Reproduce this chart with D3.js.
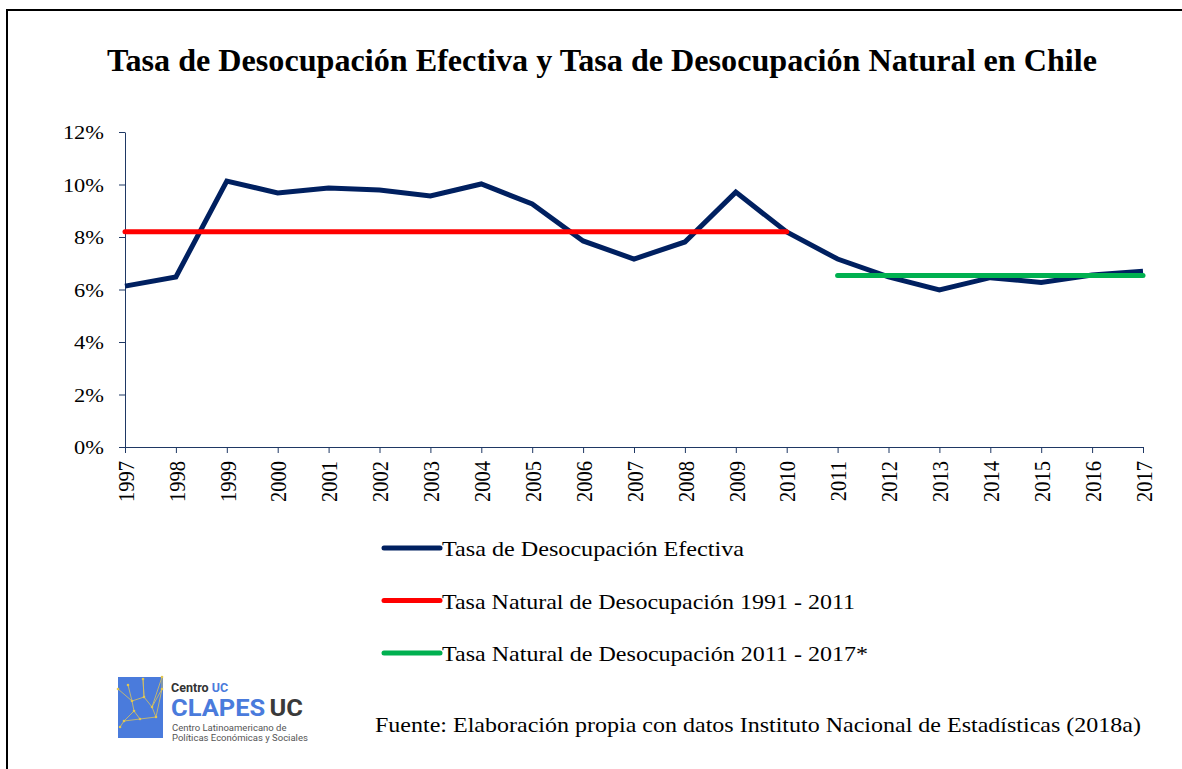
<!DOCTYPE html>
<html>
<head>
<meta charset="utf-8">
<script src="https://cdn.jsdelivr.net/npm/d3@7"></script>
<style>
  body { margin: 0; background: #fff; }
  svg { display: block; font-family: "Liberation Serif", "Times New Roman", serif; }
</style>
</head>
<body>
<svg id="chart" width="1182" height="769"></svg>
<script>
// Data
const years = ["1997", "1998", "1999", "2000", "2001", "2002", "2003", "2004", "2005", "2006", "2007",
               "2008", "2009", "2010", "2011", "2012", "2013", "2014", "2015", "2016", "2017"];
const efectiva = [6.13, 6.48, 10.13, 9.68, 9.87, 9.79, 9.56, 10.02, 9.26, 7.85, 7.16,
                  7.81, 9.71, 8.19, 7.16, 6.48, 5.98, 6.45, 6.27, 6.55, 6.70];
const natural1 = { from: "1997", to: "2010", value: 8.2 };
const natural2 = { from: "2011", to: "2017", value: 6.53 };
const yTicks = [0, 2, 4, 6, 8, 10, 12];
const legendLabels = ["Tasa de Desocupación Efectiva",
                      "Tasa Natural de Desocupación 1991 - 2011",
                      "Tasa Natural de Desocupación 2011 - 2017*"];
const colors = ["#002060", "#ff0000", "#00b050"];

// the original picture is stretched sideways a bit, so the text is too
const stretch = 1.15;

const svg = d3.select("#chart");

// outer frame (runs off the right and bottom edges)
svg.append("rect")
    .attr("x", 7).attr("y", 10)
    .attr("width", 1200).attr("height", 800)
    .attr("fill", "none")
    .attr("stroke", "#000")
    .attr("stroke-width", 2);

// title
svg.append("text")
    .attr("x", 602).attr("y", 71)
    .attr("text-anchor", "middle")
    .attr("font-size", 31)
    .attr("font-weight", "bold")
    .attr("textLength", 990)
    .attr("lengthAdjust", "spacingAndGlyphs")
    .text("Tasa de Desocupación Efectiva y Tasa de Desocupación Natural en Chile");

// scales
const x = d3.scalePoint()
    .domain(years)
    .range([125, 1143]);

const y = d3.scaleLinear()
    .domain([0, 12])
    .range([447, 132]);

const axisColor = "#1f3864";

// y axis
const yAxis = svg.append("g")
    .attr("transform", "translate(125,0)")
    .call(d3.axisLeft(y).tickValues(yTicks).tickFormat(d => d + "%").tickSize(6).tickSizeOuter(0));
yAxis.select(".domain").attr("stroke", axisColor);
yAxis.selectAll(".tick line").attr("stroke", axisColor);
yAxis.selectAll(".tick text")
    .attr("font-family", "Liberation Serif, Times New Roman, serif")
    .attr("font-size", 19.5)
    .attr("fill", "#000")
    .attr("x", 0)
    .attr("dy", "0.35em")
    .attr("transform", `translate(-21,0) scale(${stretch},1)`);

// x axis
const xAxis = svg.append("g")
    .attr("transform", "translate(0,447)")
    .call(d3.axisBottom(x).tickSize(6).tickSizeOuter(0));
xAxis.select(".domain").attr("stroke", axisColor);
xAxis.selectAll(".tick line").attr("stroke", axisColor);
xAxis.selectAll(".tick text")
    .attr("font-family", "Liberation Serif, Times New Roman, serif")
    .attr("font-size", 20.5)
    .attr("fill", "#000")
    .attr("text-anchor", "end")
    .attr("x", 0)
    .attr("y", 0)
    .attr("dy", "0.35em")
    .attr("transform", `translate(0,14) scale(${stretch},1) rotate(-90)`);

// effective rate line
const line = d3.line()
    .x((d, i) => x(years[i]))
    .y(d => y(d));

svg.append("path")
    .datum(efectiva)
    .attr("fill", "none")
    .attr("stroke", colors[0])
    .attr("stroke-width", 5)
    .attr("stroke-linejoin", "miter")
    .attr("d", line);

// natural rate segments
[natural1, natural2].forEach((n, i) => {
    svg.append("line")
        .attr("x1", x(n.from)).attr("x2", x(n.to))
        .attr("y1", y(n.value)).attr("y2", y(n.value))
        .attr("stroke", colors[i + 1])
        .attr("stroke-width", 5)
        .attr("stroke-linecap", "round");
});

// legend
const legendWidths = [302, 413, 426];
const legend = svg.append("g");
legendLabels.forEach((lab, i) => {
    const ly = 548 + i * 52.5;
    legend.append("line")
        .attr("x1", 384).attr("x2", 440)
        .attr("y1", ly).attr("y2", ly)
        .attr("stroke", colors[i])
        .attr("stroke-width", 5)
        .attr("stroke-linecap", "round");
    legend.append("text")
        .attr("x", 442).attr("y", ly + 8)
        .attr("font-size", 22)
        .attr("textLength", legendWidths[i])
        .attr("lengthAdjust", "spacingAndGlyphs")
        .text(lab);
});

// source
svg.append("text")
    .attr("x", 375).attr("y", 732)
    .attr("font-size", 22)
    .attr("textLength", 766)
    .attr("lengthAdjust", "spacingAndGlyphs")
    .text("Fuente: Elaboración propia con datos Instituto Nacional de Estadísticas (2018a)");

// logo
const logo = svg.append("g").attr("transform", "translate(118,677)");
logo.append("rect")
    .attr("width", 45).attr("height", 61)
    .attr("fill", "#4a7bdc");
const net = [[0, 12], [10, 8], [25, 2], [44, 0], [14, 24], [26, 20], [34, 30], [44, 12],
             [6, 44], [22, 42], [38, 40], [2, 50], [16, 34]];
const links = [[0, 4], [1, 4], [2, 5], [3, 7], [4, 5], [5, 6], [6, 7], [4, 12], [12, 8],
               [8, 9], [9, 10], [10, 6], [8, 11], [5, 2], [7, 10], [12, 9], [3, 6]];
links.forEach(([a, b]) => {
    logo.append("line")
        .attr("x1", net[a][0]).attr("y1", net[a][1])
        .attr("x2", net[b][0]).attr("y2", net[b][1])
        .attr("stroke", "#d9c35c")
        .attr("stroke-width", 0.8);
});
net.forEach(p => {
    logo.append("circle").attr("cx", p[0]).attr("cy", p[1]).attr("r", 1.3).attr("fill", "#e2c64f");
});
const lt = svg.append("g").attr("font-family", "Roboto, Liberation Sans, Arial, sans-serif");
const t1 = lt.append("text").attr("x", 171).attr("y", 692).attr("font-size", 12.5).attr("font-weight", "bold");
t1.append("tspan").attr("fill", "#333").text("Centro ");
t1.append("tspan").attr("fill", "#4a7bdc").text("UC");
const t2 = lt.append("text").attr("x", 171).attr("y", 716).attr("font-size", 24).attr("font-weight", "bold")
    .attr("textLength", 132).attr("lengthAdjust", "spacingAndGlyphs");
t2.append("tspan").attr("fill", "#4a7bdc").text("CLAPES");
t2.append("tspan").attr("fill", "#3a3a3a").attr("dx", 4).text("UC");
lt.append("text").attr("x", 172).attr("y", 731).attr("font-size", 9.5).attr("fill", "#555")
    .text("Centro Latinoamericano de");
lt.append("text").attr("x", 172).attr("y", 741).attr("font-size", 9.5).attr("fill", "#555")
    .text("Políticas Económicas y Sociales");
</script>
</body>
</html>
